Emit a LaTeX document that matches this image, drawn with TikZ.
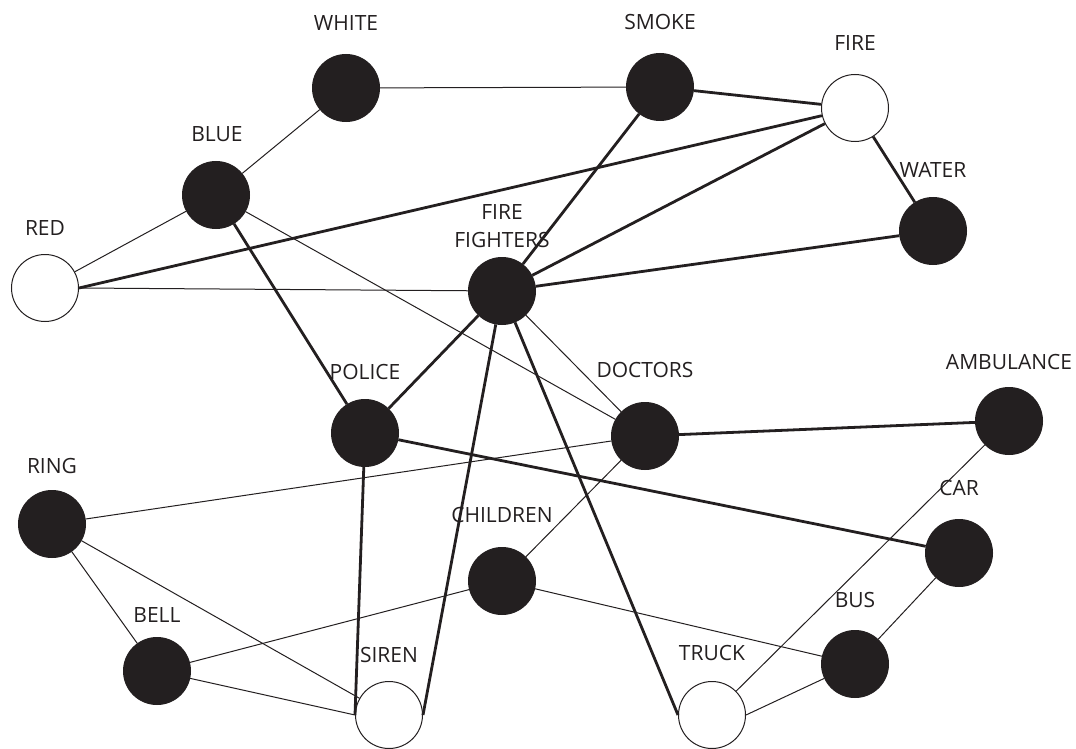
\documentclass[tikz,border=0pt]{standalone}
\usepackage{fontspec}
\setmainfont{Open Sans}
\definecolor{ink}{HTML}{231F20}
\begin{document}
\begin{tikzpicture}[x=1pt,y=-1pt,
  full/.style={circle,fill=ink,draw=ink,line width=1pt,minimum size=67pt,inner sep=0pt},
  empty/.style={circle,fill=white,draw=ink,line width=1pt,minimum size=67pt,inner sep=0pt},
  lbl/.style={text=ink,font=\fontsize{21}{28}\selectfont,inner sep=0pt,align=center},
  thin/.style={draw=ink,line width=1pt},
  thick/.style={draw=ink,line width=2.8pt}]
\useasboundingbox (0,0) rectangle (1076,749);
% nodes
\node[full]  (white) at (346,88) {};
\node[full]  (smoke) at (660,87) {};
\node[empty] (fire)  at (855,108) {};
\node[full]  (blue)  at (216,195) {};
\node[full]  (water) at (933,231) {};
\node[empty] (red)   at (45,288) {};
\node[full]  (ff)    at (502,291) {};
\node[full]  (police) at (365,433) {};
\node[full]  (doctors) at (645,436) {};
\node[full]  (ambulance) at (1009,421) {};
\node[full]  (ring)  at (52,524) {};
\node[full]  (children) at (502,581) {};
\node[full]  (car)   at (959,553) {};
\node[full]  (bell)  at (157,671) {};
\node[full]  (bus)   at (855,664) {};
\node[empty] (siren) at (389,715) {};
\node[empty] (truck) at (712,715) {};
% labels
\node[lbl] (lwhite) at (346,23) {WHITE};
\node[lbl] (lsmoke) at (660,22) {SMOKE};
\node[lbl] (lfire) at (855,43) {FIRE};
\node[lbl] (lblue) at (217,134) {BLUE};
\node[lbl] (lwater) at (933,170) {WATER};
\node[lbl] (lred) at (45,228) {RED};
\node[lbl] (lff) at (502,226) {FIRE\\FIGHTERS};
\node[lbl] (lpolice) at (365,372) {POLICE};
\node[lbl] (ldoctors) at (645,370) {DOCTORS};
\node[lbl] (lambulance) at (1009,362) {AMBULANCE};
\node[lbl] (lring) at (52,466) {RING};
\node[lbl] (lchildren) at (502,515) {CHILDREN};
\node[lbl] (lcar) at (959,488) {CAR};
\node[lbl] (lbell) at (157,615) {BELL};
\node[lbl] (lbus) at (855,600) {BUS};
\node[lbl] (lsiren) at (389,655) {SIREN};
\node[lbl] (ltruck) at (712,653) {TRUCK};
% edges
\draw[thin] (white) -- (smoke);
\draw[thin] (white) -- (blue);
\draw[thick] (smoke) -- (fire);
\draw[thick] (smoke) -- (ff);
\draw[thick] (red.east) -- (fire);
\draw[thick] (fire) -- (ff);
\draw[thick] (fire) -- (water);
\draw[thick] (water) -- (ff);
\draw[thin] (blue) -- (red);
\draw[thick] (blue) -- (police);
\draw[thin] (blue) -- (doctors);
\draw[thin] (red.east) -- (ff);
\draw[thick] (ff) -- (police);
\draw[thin] (ff) -- (doctors);
\draw[thick] (ff) -- (siren.east);
\draw[thick] (ff) -- (truck.west);
\draw[thick] (police) -- (siren.west);
\draw[thick] (police) -- (car);
\draw[thick] (doctors) -- (ambulance);
\draw[thin] (doctors) -- (ring);
\draw[thin] (doctors) -- (children);
\draw[thin] (ambulance) -- (truck);
\draw[thin] (ring) -- (bell);
\draw[thin] (ring) -- (siren);
\draw[thin] (bell) -- (siren.west);
\draw[thin] (bell) -- (children);
\draw[thin] (children) -- (bus);
\draw[thin] (bus) -- (car);
\draw[thin] (bus) -- (truck.east);
\end{tikzpicture}
\end{document}
